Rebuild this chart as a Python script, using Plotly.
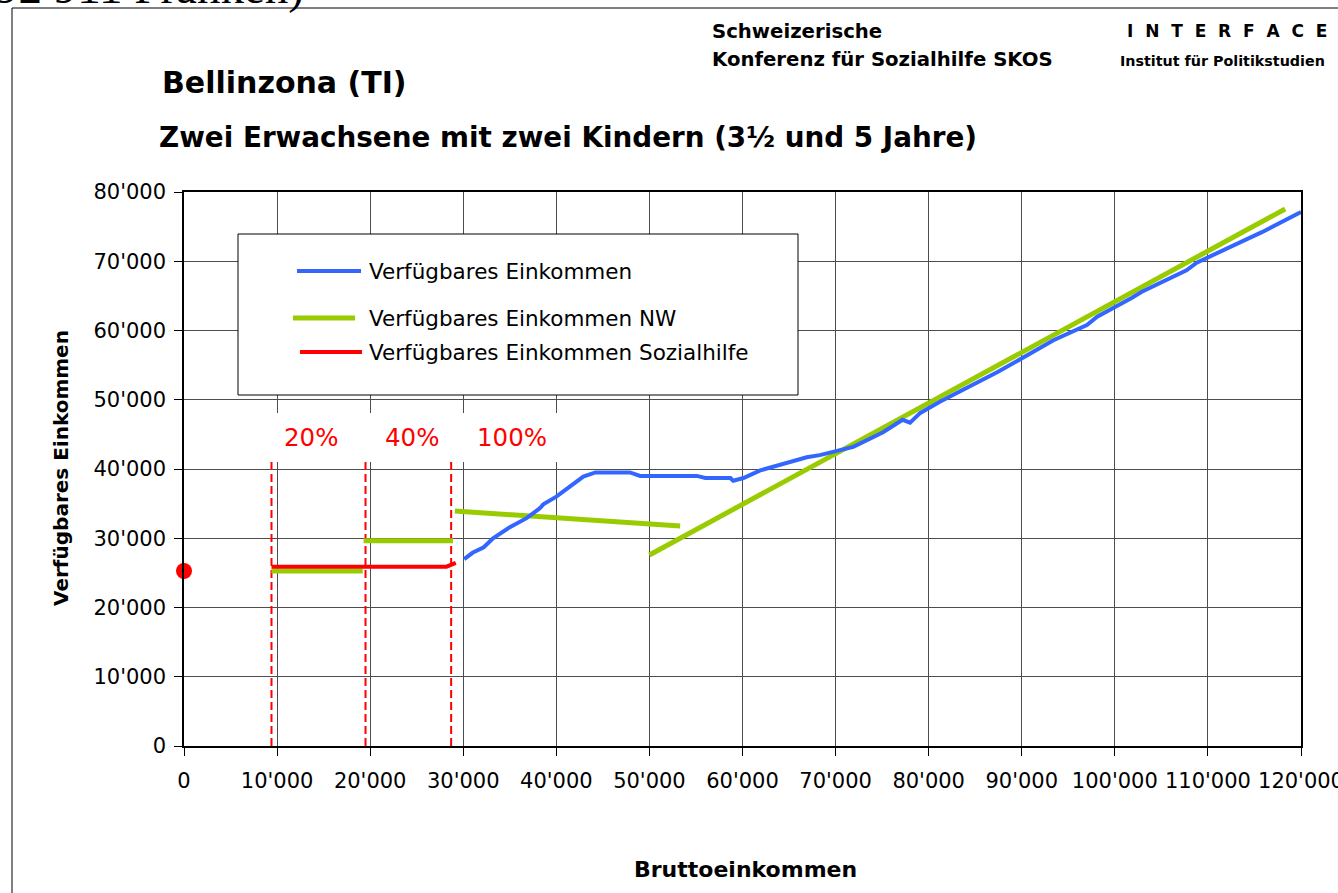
import plotly.graph_objects as go

# ---------------- data ----------------
blue_x = [30100, 31000, 32200, 33200, 35000, 36800, 38200, 38600, 40000, 42900, 44200, 47900,
          49000, 55100, 56000, 58700, 59000, 60100, 61900, 66900, 68300, 71900, 75100, 77200,
          78000, 79100, 81200, 85800, 87400, 92000, 93400, 97000, 98100, 101800, 102900,
          107700, 108800, 115800, 120000]
blue_y = [27000, 27900, 28700, 30000, 31600, 32900, 34300, 34900, 36000, 38900, 39500, 39500,
          39000, 39000, 38700, 38700, 38300, 38700, 39800, 41700, 42000, 43200, 45300, 47100,
          46700, 48100, 49700, 52800, 54000, 57500, 58600, 60800, 62000, 64700, 65600,
          68700, 69800, 74200, 77100]

green_x = [9400, 19200, None, 19300, 28900, None, 29100, 53300, None, 50000, 118300]
green_y = [25270, 25270, None, 29640, 29640, None, 33930, 31770, None, 27580, 77550]

red_x = [9400, 28200, 29200]
red_y = [25890, 25890, 26450]

dot_x = [0]
dot_y = [25270]

threshold_x = [9400, 19500, 28700]
threshold_top = 41000
pct_labels = ["20%", "40%", "100%"]
pct_x = [13600, 24500, 35200]
pct_y = 44600

x_ticks = list(range(0, 120001, 10000))
y_ticks = list(range(0, 80001, 10000))


def fmt(v):
    return f"{v:,}".replace(",", "'")


x_ticktext = [fmt(v) for v in x_ticks]
y_ticktext = [fmt(v) for v in y_ticks]

legend_labels = ["Verfügbares Einkommen", "Verfügbares Einkommen NW",
                 "Verfügbares Einkommen Sozialhilfe"]

BLUE = "#3366FF"
GREEN = "#99CC00"
RED = "#FF0000"
FONT = "DejaVu Sans"

# ---------------- geometry helpers ----------------
W, H = 1338, 893
L, R, T, B = 184, 37, 192, 147
PW, PH = W - L - R, H - T - B


def px(xp):
    return (xp - L) / PW


def py(yp):
    return (H - B - yp) / PH


fig = go.Figure()

# dashed threshold lines
tx, ty = [], []
for v in threshold_x:
    tx += [v, v, None]
    ty += [0, threshold_top, None]
fig.add_trace(go.Scatter(x=tx, y=ty, mode="lines", line=dict(color=RED, width=2, dash="8px,4px"),
                         showlegend=False, hoverinfo="skip"))

fig.add_trace(go.Scatter(x=green_x, y=green_y, mode="lines", name=legend_labels[1],
                         line=dict(color=GREEN, width=5), showlegend=False))
fig.add_trace(go.Scatter(x=red_x, y=red_y, mode="lines", name=legend_labels[2],
                         line=dict(color=RED, width=4), showlegend=False))
fig.add_trace(go.Scatter(x=blue_x, y=blue_y, mode="lines", name=legend_labels[0],
                         line=dict(color=BLUE, width=4), showlegend=False))
fig.add_trace(go.Scatter(x=dot_x, y=dot_y, mode="markers", marker=dict(color=RED, size=16),
                         showlegend=False, cliponaxis=False))

shapes = []
# white box behind percentage labels (covers gridlines)
shapes.append(dict(type="rect", xref="x", yref="y", x0=2000, x1=46000, y0=41000, y1=48100,
                   fillcolor="white", line=dict(width=0), layer="between"))
# outer frame
shapes.append(dict(type="rect", xref="paper", yref="paper", x0=px(12), x1=px(1400),
                   y0=py(950), y1=py(8), line=dict(color="black", width=1),
                   fillcolor="rgba(0,0,0,0)", layer="above"))
# legend box
shapes.append(dict(type="rect", xref="paper", yref="paper", x0=px(238), x1=px(798),
                   y0=py(395), y1=py(234), line=dict(color="black", width=1),
                   fillcolor="white", layer="above"))
leg_rows = [(297, 361, 271, BLUE, 4), (293, 355, 318, GREEN, 5), (300, 362, 352, RED, 4)]
for x0, x1, yy, c, w in leg_rows:
    shapes.append(dict(type="line", xref="paper", yref="paper", x0=px(x0), x1=px(x1),
                       y0=py(yy), y1=py(yy), line=dict(color=c, width=w), layer="above"))

annotations = []
for (x0, x1, yy, c, w), lab in zip(leg_rows, legend_labels):
    annotations.append(dict(xref="paper", yref="paper", x=px(367), y=py(yy), text=lab,
                            showarrow=False, xanchor="left", yanchor="middle",
                            font=dict(family=FONT, size=21.5, color="black")))
for lab, xv in zip(pct_labels, pct_x):
    annotations.append(dict(xref="x", yref="y", x=xv, y=pct_y, text=lab, showarrow=False,
                            xanchor="center", yanchor="middle",
                            font=dict(family=FONT, size=24.5, color=RED)))


def txt(text, x, y, size, bold=True, anchor="left", family=FONT, angle=0):
    annotations.append(dict(xref="paper", yref="paper", x=px(x), y=py(y), text=text,
                            showarrow=False, xanchor=anchor, yanchor="middle", textangle=angle,
                            font=dict(family=family, size=size, color="black",
                                      weight="bold" if bold else "normal")))


txt("Bellinzona (TI)", 160, 82, 30)
txt("Zwei Erwachsene mit zwei Kindern (3½ und 5 Jahre)", 157, 138, 27.8)
txt("Schweizerische", 710, 32, 19.7)
txt("Konferenz für Sozialhilfe SKOS", 710, 60, 19.7)
txt("I\u00a0\u00a0N\u00a0\u00a0T\u00a0\u00a0E\u00a0\u00a0R\u00a0\u00a0F\u00a0\u00a0A\u00a0\u00a0C\u00a0\u00a0E",
    1329, 31, 17, anchor="right")
txt("Institut für Politikstudien", 1327, 61, 14.3, anchor="right")
txt("Verfügbares Einkommen", 61, 468, 20, anchor="center", angle=-90)
txt("Bruttoeinkommen", 745, 869, 22, anchor="center")
txt("92 911 Franken)", 306, -13, 47, bold=False, anchor="right", family="Liberation Serif")

fig.update_layout(
    width=W, height=H,
    margin=dict(l=L, r=R, t=T, b=B, autoexpand=False),
    paper_bgcolor="white", plot_bgcolor="white",
    shapes=shapes, annotations=annotations,
    showlegend=False,
    font=dict(family=FONT, size=21, color="black"),
)
fig.update_xaxes(range=[0, 120000], tickvals=x_ticks, ticktext=x_ticktext,
                 showgrid=True, gridcolor="#4d4d4d", gridwidth=1,
                 showline=True, linecolor="black", linewidth=1.5, mirror=True,
                 ticks="outside", ticklen=8, tickcolor="black", ticklabelstandoff=7,
                 ticklabeloverflow="allow",
                 zeroline=False, tickfont=dict(family=FONT, size=21))
fig.update_yaxes(range=[0, 80000], tickvals=y_ticks, ticktext=y_ticktext,
                 showgrid=True, gridcolor="#4d4d4d", gridwidth=1,
                 showline=True, linecolor="black", linewidth=1.5, mirror=True,
                 ticks="outside", ticklen=8, tickcolor="black", ticklabelstandoff=4,
                 zeroline=False, tickfont=dict(family=FONT, size=21))

fig.write_html("out.html", config={"displayModeBar": False},
               post_script="document.body.style.margin='0px';")
